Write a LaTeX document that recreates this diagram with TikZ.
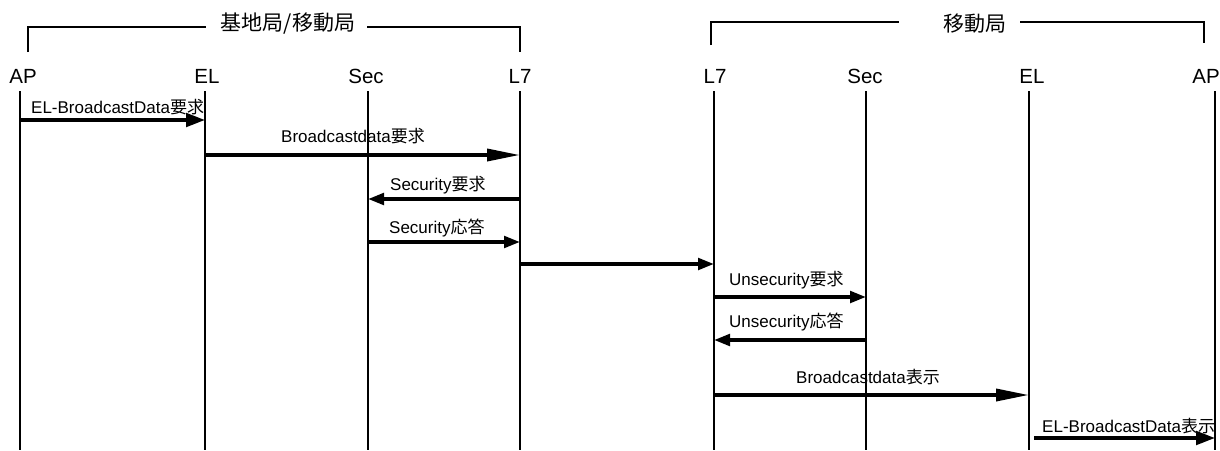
\documentclass[tikz,border=0pt]{standalone}
\usepackage{fontspec}
\setmainfont{Liberation Sans}
\newfontfamily\jp{Noto Sans CJK JP}
\usetikzlibrary{arrows.meta}

\tikzset{
  head/.style={anchor=base, inner sep=0pt, font=\fontsize{20.5}{24}\selectfont},
  grouptitle/.style={anchor=base, inner sep=0pt, font=\jp\fontsize{21}{25}\selectfont},
  msglabel/.style={anchor=base west, inner sep=0pt, font=\fontsize{17}{20}\selectfont},
  life/.style={line width=1.3pt},
  bracket/.style={line width=1.2pt},
  msg/.style={line width=3.6pt},
  tipshort/.style={-{Triangle[length=16pt,width=11.5pt]}},
  tipmid/.style={-{Triangle[length=19pt,width=13.5pt]}},
  tiplong/.style={-{Triangle[length=33pt,width=12pt]}},
}

\begin{document}
\begin{tikzpicture}[x=1pt,y=-1pt]
\useasboundingbox[fill=white] (0,0) rectangle (1220,450);

% lifeline tops
\coordinate (APa)  at (20,91);
\coordinate (ELa)  at (205,91);
\coordinate (SECa) at (368,91);
\coordinate (L7a)  at (520,91);
\coordinate (L7b)  at (714,91);
\coordinate (SECb) at (866,91);
\coordinate (ELb)  at (1029,91);
\coordinate (APb)  at (1215,91);

% lifelines
\foreach \p in {APa,ELa,SECa,L7a,L7b,SECb,ELb,APb}
  \draw[life] (\p) -- (\p |- 0,450);

% lifeline headers
\node[head] (hAPa)  at (23,83)  {AP};
\node[head] (hELa)  at (207,83) {EL};
\node[head] (hSECa) at (366,83) {Sec};
\node[head] (hL7a)  at (520,83) {L7};
\node[head] (hL7b)  at (715,83) {L7};
\node[head] (hSECb) at (865,83) {Sec};
\node[head] (hELb)  at (1032,83) {EL};
\node[head, anchor=base east] (hAPb) at (1220,83) {AP};

% station groupings
\node[grouptitle] (gA) at (288,30) {基地局/移動局};
\node[grouptitle] (gB) at (975,31) {移動局};
\draw[bracket] (28,52) -- (28,27) -- (206,27);
\draw[bracket] (367,27) -- (520,27) -- (520,52);
\draw[bracket] (711,45) -- (711,22) -- (899,22);
\draw[bracket] (1020,22) -- (1204,22) -- (1204,43);

% messages
\draw[msg,tipmid]   (APa |- 0,120)  -- (ELa |- 0,120);
\node[msglabel] (m1) at (31,113) {EL-BroadcastData{\jp 要求}};

\draw[msg,tiplong]  (ELa |- 0,155)  -- (L7a |- 0,155);
\node[msglabel] (m2) at (281,142.5) {Broadcastdata{\jp 要求}};

\draw[msg,tipshort] (L7a |- 0,199)  -- (SECa |- 0,199);
\node[msglabel] (m3) at (390,190) {Security{\jp 要求}};

\draw[msg,tipshort] (SECa |- 0,242) -- (L7a |- 0,242);
\node[msglabel] (m4) at (389,233) {Security{\jp 応答}};

\draw[msg,tipshort] (L7a |- 0,264)  -- (L7b |- 0,264);

\draw[msg,tipshort] (L7b |- 0,297)  -- (SECb |- 0,297);
\node[msglabel] (m6) at (729,285) {Unsecurity{\jp 要求}};

\draw[msg,tipshort] (SECb |- 0,340) -- (L7b |- 0,340);
\node[msglabel] (m7) at (729,327) {Unsecurity{\jp 応答}};

\draw[msg,tiplong]  (L7b |- 0,395)  -- (ELb |- 0,395);
\node[msglabel] (m8) at (796,383) {Broadcastdata{\jp 表示}};

\coordinate (ELbOut) at (1034,438);
\draw[msg,tipmid]   (ELbOut) -- (APb |- ELbOut);
\node[msglabel] (m9) at (1042,432) {EL-BroadcastData{\jp 表示}};
\end{tikzpicture}
\end{document}
